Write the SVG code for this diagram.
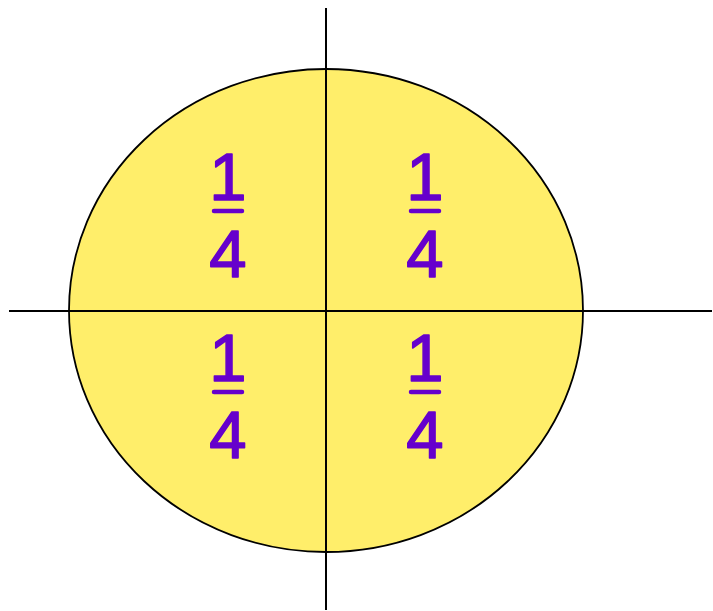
<svg xmlns="http://www.w3.org/2000/svg" width="713" height="611" viewBox="0 0 713 611">
<style>
.f{font-family:"Liberation Sans",Arial,sans-serif;font-size:67px;fill:#6600CC;stroke:#6600CC;stroke-width:1.5;stroke-linejoin:round;text-anchor:middle}
.bar{stroke:#6600CC;stroke-width:4.5;stroke-linecap:round}
.ax{stroke:#000;stroke-width:2}
</style>
<rect width="713" height="611" fill="#fff"/>
<g id="circle"><ellipse cx="326" cy="310.5" rx="257" ry="241.5" fill="#FFEE6A" stroke="#000" stroke-width="1.8"/></g>
<g id="axes">
<line class="ax" x1="326" y1="8" x2="326" y2="610"/>
<line class="ax" x1="9" y1="311" x2="712" y2="311"/>
</g>
<g id="q1"><text class="f" x="228" y="200">1</text><line class="bar" x1="214" y1="211" x2="242" y2="211"/><text class="f" x="228" y="277">4</text></g>
<g id="q2"><text class="f" x="425" y="200">1</text><line class="bar" x1="411" y1="211" x2="439" y2="211"/><text class="f" x="425" y="277">4</text></g>
<g id="q3"><text class="f" x="228" y="381">1</text><line class="bar" x1="214" y1="392" x2="242" y2="392"/><text class="f" x="228" y="458">4</text></g>
<g id="q4"><text class="f" x="425" y="381">1</text><line class="bar" x1="411" y1="392" x2="439" y2="392"/><text class="f" x="425" y="458">4</text></g>
</svg>
